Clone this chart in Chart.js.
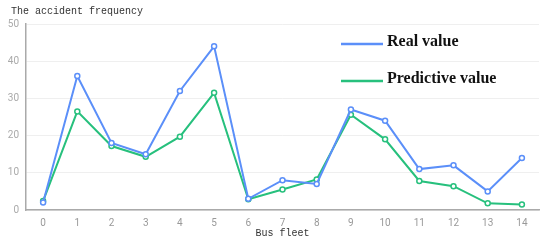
<!DOCTYPE html>
<html>
<head>
<meta charset="utf-8">
<script src="https://cdn.jsdelivr.net/npm/chart.js"></script>
<style>
    html, body { margin: 0; padding: 0; background: #fff; }
    #wrap { position: relative; width: 550px; height: 244px; }
</style>
</head>
<body>
<div id="wrap"><canvas id="myChart" width="550" height="244"></canvas></div>
<script>
const fleets = ['0', '1', '2', '3', '4', '5', '6', '7', '8', '9', '10', '11', '12', '13', '14'];
const realValues = [2, 36, 18, 15, 32, 44, 3, 8, 7, 27, 24, 11, 12, 5, 14];
const predictiveValues = [2.4, 26.5, 17.2, 14.3, 19.7, 31.5, 2.9, 5.5, 8.2, 25.6, 19, 7.8, 6.4, 1.8, 1.5];
const yTicks = [0, 10, 20, 30, 40, 50];

const blue = '#5b8ff9';
const green = '#27c07d';

// titre + légende dessinés sur le canvas
const textPlugin = {
    id: 'textPlugin',
    afterDraw(chart) {
        const c = chart.ctx;
        c.save();
        c.fillStyle = '#333';
        c.font = '10px "Liberation Mono", monospace';
        c.textBaseline = 'middle';
        c.textAlign = 'left';
        c.fillText('The accident frequency', 11, 11);

        const items = [
            { text: 'Real value', color: blue, y: 44 },
            { text: 'Predictive value', color: green, y: 81 }
        ];
        items.forEach(item => {
            c.strokeStyle = item.color;
            c.lineWidth = 2.5;
            c.beginPath();
            c.moveTo(341, item.y);
            c.lineTo(383, item.y);
            c.stroke();
            c.fillStyle = '#111';
            c.font = 'bold 16px "Liberation Serif", serif';
            c.fillText(item.text, 387, item.y - 2);
        });
        c.restore();
    }
};

const ctx = document.getElementById('myChart').getContext('2d');
new Chart(ctx, {
    type: 'line',
    data: {
        labels: fleets,
        datasets: [{
            label: 'Real value',
            data: realValues,
            borderColor: blue,
            backgroundColor: '#fff',
            borderWidth: 2,
            pointRadius: 2.5,
            pointBorderWidth: 1.5,
            pointBackgroundColor: '#fff',
            pointBorderColor: blue,
            tension: 0
        }, {
            label: 'Predictive value',
            data: predictiveValues,
            borderColor: green,
            backgroundColor: '#fff',
            borderWidth: 2,
            pointRadius: 2.5,
            pointBorderWidth: 1.5,
            pointBackgroundColor: '#fff',
            pointBorderColor: green,
            tension: 0
        }]
    },
    options: {
        responsive: false,
        animation: false,
        layout: {
            padding: { top: 24, right: 11, left: 0, bottom: 0 }
        },
        plugins: {
            legend: { display: false },
            tooltip: { enabled: false }
        },
        scales: {
            x: {
                offset: true,
                grid: { display: false, drawTicks: false },
                border: { display: true, color: '#aaa', width: 1.5 },
                ticks: {
                    color: '#999',
                    padding: 7,
                    font: { size: 10, family: 'Roboto, sans-serif' }
                },
                title: {
                    display: true,
                    text: 'Bus fleet',
                    color: '#333',
                    font: { size: 10, family: '"Liberation Mono", monospace' },
                    padding: { top: 0, bottom: 5 }
                },
                afterFit(scale) { scale.height = 34; }
            },
            y: {
                min: 0,
                max: 50,
                afterBuildTicks(scale) { scale.ticks = yTicks.map(v => ({ value: v })); },
                grid: { color: '#efefef', drawTicks: false },
                border: { display: true, color: '#aaa', width: 1.5 },
                ticks: {
                    color: '#aaa',
                    padding: 7,
                    font: { size: 10, family: 'Roboto, sans-serif' }
                },
                afterFit(scale) { scale.width = 26; }
            }
        }
    },
    plugins: [textPlugin]
});
</script>
</body>
</html>
